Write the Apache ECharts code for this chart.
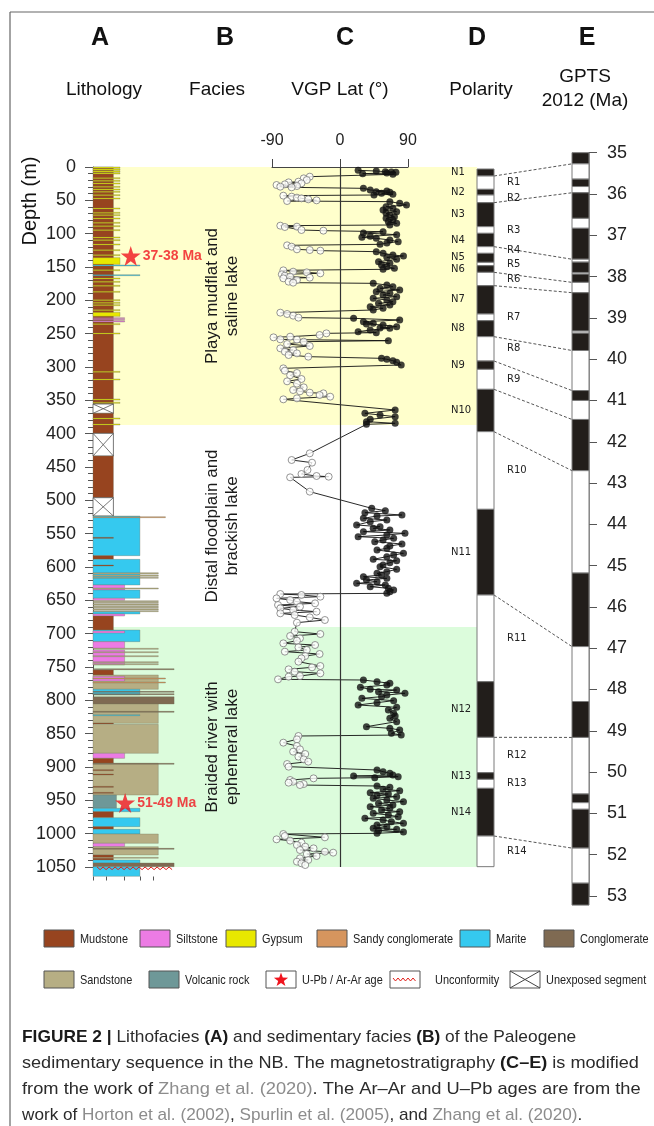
<!DOCTYPE html>
<html>
<head>
<meta charset="utf-8">
<script src="https://cdn.jsdelivr.net/npm/echarts@6/dist/echarts.min.js"></script>
<style>
html, body { margin: 0; padding: 0; background: #fff; }
#main { width: 654px; height: 1126px; }
</style>
</head>
<body>
<div id="main"></div>
<script>
const FONT = '"Liberation Sans", Arial, sans-serif';

// lithology types, legend names, grain size (x position of bed edge) and colours
const lithoTypes = ['mud', 'silt', 'gyp', 'sconG', 'marite', 'cong', 'sand', 'volc', 'unexp'];
const lithoNames = ['Mudstone', 'Siltstone', 'Gypsum', 'Sandy conglomerate', 'Marite', 'Conglomerate', 'Sandstone', 'Volcanic rock', 'Unexposed segment'];
const grainSize = [2.0, 3.1, 2.65, 7.1, 4.6, 7.95, 6.4, 2.3, 2.0];
const grainTicks = [0, 1.3, 3.1, 4.6, 5.9];
const lithoColors = ['#97441f', '#ec7be4', '#e8e800', '#d6955e', '#35c9ef', '#7f6a52', '#b6ae84', '#6e9898', '#ffffff'];

// beds: [type, top (m), base (m)]
const beds = [
  ['mud', 0, 355],
  ['gyp', 0, 2], ['gyp', 3, 5], ['gyp', 6, 8], ['gyp', 9, 10.5], ['gyp', 16, 17.5], ['gyp', 20, 21.5],
  ['gyp', 24, 25.5], ['gyp', 29, 30.5], ['gyp', 33, 34.5], ['gyp', 36.5, 38], ['gyp', 41.5, 43], ['gyp', 46.5, 48],
  ['gyp', 61.5, 63], ['gyp', 68, 69.5], ['gyp', 71.5, 73], ['gyp', 76.5, 78], ['gyp', 83, 84.5], ['gyp', 88, 89.5],
  ['gyp', 94, 95.5], ['gyp', 105, 106.5], ['gyp', 109, 110.5], ['gyp', 115.5, 117], ['gyp', 124, 125.5],
  ['gyp', 131.5, 133], ['gyp', 136, 146], ['marite', 147, 148.2], ['gyp', 154, 155.5], ['marite', 161.5, 162.7],
  ['gyp', 166.5, 168], ['gyp', 171.5, 173], ['gyp', 177.5, 179], ['gyp', 186.5, 188], ['gyp', 199, 200.5],
  ['gyp', 203, 204.5], ['gyp', 206.5, 208], ['gyp', 214, 215.5], ['gyp', 218, 224],
  ['silt', 226, 227.2], ['silt', 228.5, 229.7], ['silt', 231, 232.2],
  ['gyp', 235, 236.5], ['gyp', 249, 250.5], ['gyp', 306.5, 308], ['gyp', 318, 319.5], ['gyp', 348, 349.5], ['gyp', 353, 354.5],
  ['unexp', 355.5, 369.5],
  ['mud', 369.5, 399.5], ['gyp', 376.5, 378], ['gyp', 385.5, 387],
  ['unexp', 399.5, 433.5],
  ['mud', 433.5, 496],
  ['unexp', 496, 523.5],
  ['marite', 523.5, 583], ['sconG', 524.5, 526], ['mud', 555.5, 557],
  ['mud', 583, 588.5],
  ['marite', 588.5, 627], ['mud', 597, 598.2], ['sand', 608.5, 610.5], ['sand', 612, 614], ['sand', 615.5, 617],
  ['silt', 627, 634.5], ['sand', 631.5, 633],
  ['marite', 634.5, 647], ['silt', 647, 650],
  ['sand', 650.5, 652], ['sand', 653, 654.5], ['sand', 655.5, 657], ['sand', 658, 659.5], ['sand', 660.5, 662],
  ['sand', 663, 664.5], ['sand', 665.5, 667],
  ['marite', 667, 670.5], ['silt', 670.5, 673.5],
  ['mud', 673.5, 694.5],
  ['marite', 694.5, 712], ['silt', 696, 699],
  ['silt', 712, 722], ['sand', 722, 723.5],
  ['silt', 724.5, 747], ['sand', 727, 728.5], ['sand', 733, 734.5], ['sand', 742, 743.5], ['sand', 745, 746.5],
  ['cong', 752.5, 754],
  ['mud', 754.5, 762],
  ['sand', 762, 783.5], ['silt', 764, 771], ['sconG', 766.5, 767.8], ['sconG', 772.5, 773.8],
  ['marite', 783.5, 792], ['cong', 786.5, 787.8], ['cong', 790, 791.3],
  ['cong', 794.5, 805.5],
  ['sand', 805.5, 834.5], ['cong', 816.5, 817.8], ['marite', 821.5, 822.7], ['mud', 834, 835],
  ['sand', 836, 879.5],
  ['silt', 879.5, 887],
  ['mud', 887, 894.5],
  ['sand', 894.5, 942], ['cong', 894.5, 895.8], ['mud', 904, 905.2], ['mud', 910.5, 911.7], ['mud', 929, 930.2], ['mud', 938, 939.2],
  ['volc', 942, 962],
  ['marite', 962, 967],
  ['mud', 967, 976],
  ['marite', 976, 989.5],
  ['mud', 989.5, 993.5],
  ['marite', 993.5, 1000.5],
  ['sand', 1000.5, 1014.5],
  ['silt', 1014.5, 1019.5],
  ['sand', 1019.5, 1032], ['cong', 1022, 1023.5],
  ['mud', 1032, 1039.5], ['sand', 1035.5, 1037],
  ['marite', 1039.5, 1044],
  ['cong', 1044, 1049.5],
  ['marite', 1049.5, 1064]
];
const unconformityDepth = [1052];
// radiometric ages: [grain position, depth, label]
const ageStars = [[3.7, 133.5, '37-38 Ma'], [3.15, 954, '51-49 Ma']];

// sedimentary facies
const faciesNames = ['Playa mudflat and\nsaline lake', 'Distal floodplain and\nbrackish lake', 'Braided river with\nephemeral lake'];
const faciesTop = [0, 387, 690];
const faciesBase = [387, 690, 1050];
const faciesColors = ['#ffffcc', '#ffffff', '#dcfcdc'];

// VGP latitude: [depth (m), VGP lat (deg)]
const vgp = [
  [5,24],[6,48],[7,60],[7.5,68],[8,74],[9,62],[10,30],[11,70],
  [14.5,-40],[17,-48],[19.5,-44],[22,-55],[23,-68],[24.5,-51],[26,-73],[27,-84],[28.5,-57],[29.5,-79],[30.5,-64],
  [32,31],[34.5,40],[36,62],[37,48],[38,66],[39.5,55],[41,70],[42,45],
  [43,-75],[44.5,-64],[46,-57],[47,-51],[48.5,-42],[50,-31],[51,-70],
  [52,66],[54.5,79],[57,88],[59.5,61],[62,70],[64.5,57],[67,75],[69.5,61],[72,66],[74.5,72],[77,61],[79.5,70],[82,64],[84.5,75],[87,66],
  [88,-79],[89.5,-57],[90,-73],[94.5,-51],[95.5,-22],
  [97,57],[99,31],[101.5,75],[104,40],[105.5,29],[107,48],[109.5,66],[112,77],[114,62],[116,53],
  [117.5,-70],[119.5,-64],[123.5,-57],[124.5,-40],[125.5,-26],
  [127,48],[129.5,57],[132,70],[133.5,84],[135.5,62],[138.5,75],[142,51],[144.5,66],[147,55],[149.5,62],[152,72],[153.5,57],
  [155,-75],[157,-62],[158,-44],[159.5,-26],[161,-77],[163,-73],[164.5,-66],[166,-40],[167,-75],[169.5,-57],[172,-68],[173.5,-62],
  [174.5,44],[177,62],[179.5,70],[182,53],[184.5,79],[187,48],[189.5,66],[192,57],[194.5,75],[197,44],[199.5,62],[202,70],[204.5,51],[207,66],[209.5,40],[212,57],[214.5,44],
  [218.5,-79],[220.5,-70],[223,-62],[226,-55],
  [227,18],[229.5,79],[232,31],[234.5,44],[235.5,35],[237,57],[239.5,75],[241.5,53],[242,66],[244.5,40],[247,24],[248.5,48],
  [249.5,-18],[252,-27],[254.5,-66],[255.5,-88],[258.5,-79],[259,-57],[260.5,64],[262,-48],[265.5,-70],[268.5,-40],[272,-79],[274.5,-62],[277,-73],[279.5,-57],[282,-68],[284.5,-42],
  [287,55],[288.5,62],[290.5,70],[293,75],[297,81],
  [302,-75],[305.5,-73],[309,-57],[312.5,-66],[318,-51],[321.5,-70],[325,-57],[330.5,-48],[334.5,-62],[336.5,-53],[338.5,-40],[339.5,-22],[342,-27],[344.5,-13],[347,-57],[348.5,-75],
  [364.5,73],[369.5,33],[372,53],[374.5,73],[378.5,40],[382,35],[384.5,73],[386,35],
  [429.5,-40],[439.5,-64],[443.5,-37],[454.5,-43],[460.5,-51],[463.5,-31],[464.5,-15],[465.5,-66],[487,-40],
  [512,42],[515.5,60],[518.5,33],[522,82],[523.5,49],[527,31],[529.5,62],[532,40],[537,22],[539.5,53],[542,44],[544.5,66],[547,31],[549.5,86],[552,62],[554.5,24],[557,71],[559.5,57],[562,46],[565.5,82],[568.5,66],[572,62],[574.5,49],[579.5,84],[582,71],[584.5,62],[588.5,44],[590.5,75],[593.5,66],[597,57],[599.5,53],[603.5,75],[607,62],[609.5,49],[612,55],[614.5,31],[617,62],[619.5,35],[622,49],[624.5,22],[627,60],[629.5,40],[632,64],[634.5,71],[637,66],[639.5,62],
  [640.5,-79],[642,-51],[644.5,-26],[647,-84],[649.5,-66],[652,-57],[654.5,-33],[657,-82],[659.5,-53],[662,-79],[664.5,-62],[667,-31],[669.5,-79],[672,-60],[675.5,-40],[679.5,-20],[683.5,-57],
  [697,-60],[700.5,-26],[703.5,-66],[707,-53],[710.5,-57],[714.5,-75],[717,-33],[720.5,-55],[724.5,-44],[727,-73],[730.5,-27],[733.5,-46],[737,-51],[742,-55],[748.5,-26],[750.5,-37],[753.5,-68],[757,-60],[759.5,-26],[763.5,-53],[764.5,-68],[768.5,-82],
  [769.5,31],[772,49],[774.5,66],[777,62],[780.5,27],[783.5,40],[784.5,75],[787,51],[789.5,86],[792,62],[794.5,55],[797,29],[800.5,71],[803.5,49],[807,24],[810.5,75],[814.5,64],[819.5,71],[823.5,73],[827,66],[832,75],[839.5,35],[842,66],[844.5,79],[849.5,68],[852,81],
  [853.5,-55],[858.5,-57],[863.5,-75],[868.5,-57],[873.5,-53],[877,-62],[880.5,-46],[884.5,-55],[888.5,-48],[892,-42],[895.5,-70],[899.5,-68],
  [904.5,49],[907,57],[909.5,66],[912,70],[913.5,18],[914.5,77],[916,46],
  [917,-35],[919.5,-66],[922,-62],[923.5,-68],[925.5,-48],[927,-53],
  [928.5,49],[930.5,66],[933.5,57],[935.5,79],[938.5,40],[940.5,64],[942.5,49],[944.5,75],[947,44],[949.5,62],[952,84],[954.5,51],[957,70],[959.5,40],[962,66],[964.5,55],[967,79],[969.5,44],[972,64],[974.5,77],[977,33],[979.5,57],[982,68],[984.5,84],[987,49],[989.5,62],[992,44],[993.5,75],[995.5,51],[997.5,84],[999.5,49],
  [1000.5,-75],[1003.5,-73],[1005.5,-20],[1008.5,-84],[1010.5,-66],[1013.5,-51],[1017,-57],[1019.5,-46],[1022,-35],[1024.5,-53],[1027,-20],[1028.5,-9],[1030.5,-44],[1033.5,-31],[1037,-53],[1039.5,-42],[1042,-57],[1044.5,-51],[1047,-46]
];

// magnetozones: [top (m), base (m), name]
const polarityZones = [
  [3, 13.5, 'N1'], [13.5, 33.5, 'R1'], [33.5, 42, 'N2'], [42, 53.5, 'R2'], [53.5, 89.5, 'N3'], [89.5, 99.5, 'R3'],
  [99.5, 119.5, 'N4'], [119.5, 129.5, 'R4'], [129.5, 143, 'N5'], [143, 148, 'R5'], [148, 158, 'N6'], [158, 178, 'R6'],
  [178, 220.5, 'N7'], [220.5, 230.5, 'R7'], [230.5, 254.5, 'N8'], [254.5, 291, 'R8'], [291, 303.5, 'N9'], [303.5, 333.5, 'R9'],
  [333.5, 397, 'N10'], [397, 513.5, 'R10'], [513.5, 642, 'N11'], [642, 772, 'R11'], [772, 855.5, 'N12'], [855.5, 908.5, 'R12'],
  [908.5, 918.5, 'N13'], [918.5, 932, 'R13'], [932, 1003.5, 'N14'], [1003.5, 1049.5, 'R14']
];

// GPTS 2012 chrons: [young (Ma), old (Ma), normal 1 / reversed 0]
const gptsZones = [
  [35.0, 35.27, 1], [35.27, 35.64, 0], [35.64, 35.82, 1], [35.82, 35.97, 0], [35.97, 36.59, 1], [36.59, 36.83, 0],
  [36.83, 37.58, 1], [37.58, 37.65, 0], [37.65, 37.9, 1], [37.9, 37.94, 0], [37.94, 38.14, 1], [38.14, 38.39, 0],
  [38.39, 39.32, 1], [39.32, 39.37, 0], [39.37, 39.79, 1], [39.79, 40.76, 0], [40.76, 41.0, 1], [41.0, 41.46, 0],
  [41.46, 42.70, 1], [42.70, 45.18, 0], [45.18, 46.96, 1], [46.96, 48.29, 0], [48.29, 49.16, 1], [49.16, 50.53, 0],
  [50.53, 50.74, 1], [50.74, 50.90, 0], [50.90, 51.84, 1], [51.84, 52.69, 0], [52.69, 53.22, 1]
];

// correlation tie lines: [depth (m), age (Ma)]
const ties = [[13.5, 35.27], [53.5, 35.97], [119.5, 37.58], [158, 38.14], [178, 38.39], [254.5, 39.79],
  [291, 40.76], [333.5, 41.46], [397, 42.70], [642, 46.96], [855.5, 49.16], [1003.5, 51.84]];

const headers = [['A', 'Lithology'], ['B', 'Facies'], ['C', 'VGP Lat (°)'], ['D', 'Polarity'], ['E', 'GPTS\n2012 (Ma)']];

const STAR = 'path://M12,0 L14.9,8.6 L24,8.6 L16.6,13.9 L19.4,22.6 L12,17.2 L4.6,22.6 L7.4,13.9 L0,8.6 L9.1,8.6 Z';

function starPoints(cx, cy, R, r) {
  const pts = [];
  for (let i = 0; i < 10; i++) {
    const a = -Math.PI / 2 + i * Math.PI / 5;
    const rad = i % 2 === 0 ? R : r;
    pts.push([cx + rad * Math.cos(a), cy + rad * Math.sin(a)]);
  }
  return pts;
}

function wave(x0, x1, y, amp, step) {
  const pts = [];
  for (let x = x0, i = 0; x <= x1; x += step / 2, i++) {
    pts.push([x, y + (i % 2 === 0 ? -amp : amp)]);
  }
  return pts;
}

const chart = echarts.init(document.getElementById('main'));

const hiddenAxis = (gi, min, max, inverse) => ({
  gridIndex: gi, type: 'value', min, max, inverse: !!inverse, show: false
});

const depthHidden = gi => hiddenAxis(gi, 0, 1050, true);

// legend drawn as graphic elements
function legendGraphics() {
  const g = [];
  const row1 = [[0, 44], [1, 140], [2, 226], [3, 317], [4, 460], [5, 544]];
  const row2 = [[6, 44], [7, 149]];
  const box = (x, y, fill) => ({
    type: 'rect', shape: { x, y, width: 30, height: 17 },
    style: { fill, stroke: '#555', lineWidth: 1 }
  });
  const label = (x, y, text) => ({
    type: 'text', x, y, scaleX: 0.84,
    style: { text, fill: '#222', font: '13px ' + FONT, align: 'left', verticalAlign: 'middle', textAlign: 'left', textVerticalAlign: 'middle' }
  });
  row1.forEach(([k, x]) => { g.push(box(x, 930, lithoColors[k])); g.push(label(x + 36, 939, lithoNames[k])); });
  row2.forEach(([k, x]) => { g.push(box(x, 971, lithoColors[k])); g.push(label(x + 36, 980, lithoNames[k])); });
  // star
  g.push(box(266, 971, '#fff'));
  g.push({ type: 'polygon', shape: { points: starPoints(281, 980, 7.5, 3) }, style: { fill: '#f0141e' } });
  g.push(label(302, 980, 'U-Pb / Ar-Ar age'));
  // unconformity
  g.push(box(390, 971, '#fff'));
  g.push({ type: 'polyline', shape: { points: wave(393, 417, 979.5, 1.5, 5) }, style: { stroke: '#e0201b', lineWidth: 1, fill: null } });
  g.push(label(435, 980, 'Unconformity'));
  // unexposed
  g.push(box(510, 971, '#fff'));
  g.push({ type: 'line', shape: { x1: 510, y1: 971, x2: 540, y2: 988 }, style: { stroke: '#444', lineWidth: 1 } });
  g.push({ type: 'line', shape: { x1: 510, y1: 988, x2: 540, y2: 971 }, style: { stroke: '#444', lineWidth: 1 } });
  g.push(label(546, 980, 'Unexposed segment'));
  return g;
}

function headerGraphics() {
  const g = [];
  const xs = [100, 225, 345, 477, 587];
  headers.forEach(([letter, title], i) => {
    g.push({
      type: 'text', x: xs[i], y: 38,
      style: { text: letter, fill: '#111', font: 'bold 25px ' + FONT, align: 'center', verticalAlign: 'middle', textAlign: 'center', textVerticalAlign: 'middle' }
    });
  });
  const tx = [104, 217, 340, 481];
  headers.slice(0, 4).forEach(([l, title], i) => {
    g.push({
      type: 'text', x: tx[i], y: 90,
      style: { text: title, fill: '#111', font: '19px ' + FONT, align: 'center', verticalAlign: 'middle', textAlign: 'center', textVerticalAlign: 'middle' }
    });
  });
  g.push({
    type: 'text', x: 585, y: 89,
    style: { text: headers[4][1], fill: '#111', font: '19px ' + FONT, align: 'center', verticalAlign: 'middle', textAlign: 'center', textVerticalAlign: 'middle', lineHeight: 24 }
  });
  g.push({
    type: 'text', x: 30, y: 201, rotation: Math.PI / 2,
    style: { text: 'Depth (m)', fill: '#111', font: '20px ' + FONT, align: 'center', verticalAlign: 'middle', textAlign: 'center', textVerticalAlign: 'middle' }
  });
  return g;
}

function captionGraphics() {
  const lines = [
    '{b|FIGURE 2 |} Lithofacies {b|(A)} and sedimentary facies {b|(B)} of the Paleogene',
    'sedimentary sequence in the NB. The magnetostratigraphy {b|(C–E)} is modified',
    'from the work of {g|Zhang et al. (2020)}. The Ar–Ar and U–Pb ages are from the',
    'work of {g|Horton et al. (2002)}, {g|Spurlin et al. (2005)}, and {g|Zhang et al. (2020)}.'
  ];
  const ys = [1037, 1063, 1089, 1115];
  const sx = [1.02, 1.065, 1.075, 1.01];
  return lines.map((t, i) => ({
    type: 'text', x: 22, y: ys[i], scaleX: sx[i],
    style: {
      text: t, fill: '#2b2b2b', font: '17px ' + FONT, align: 'left', verticalAlign: 'middle',
      textAlign: 'left', textVerticalAlign: 'middle',
      rich: {
        b: { fontWeight: 'bold', fontSize: 17, fontFamily: FONT, fill: '#1a1a1a' },
        g: { fontSize: 17, fontFamily: FONT, fill: '#8c8c8c' }
      }
    }
  }));
}

const frame = [
  { type: 'line', shape: { x1: 10, y1: 12, x2: 654, y2: 12 }, style: { stroke: '#666', lineWidth: 1.2 } },
  { type: 'line', shape: { x1: 10, y1: 12, x2: 10, y2: 1126 }, style: { stroke: '#666', lineWidth: 1.2 } }
];

const option = {
  animation: false,
  backgroundColor: '#fff',
  textStyle: { fontFamily: FONT },
  grid: [
    { left: 93, top: 167, width: 102, height: 700, outerBoundsMode: 'none' },   // lithology
    { left: 93, top: 167, width: 384, height: 700, outerBoundsMode: 'none' },   // facies bands
    { left: 272, top: 167, width: 136, height: 700, outerBoundsMode: 'none' },  // VGP
    { left: 477, top: 167, width: 17, height: 700, outerBoundsMode: 'none' },   // polarity
    { left: 572, top: 152.7, width: 17, height: 743.3, outerBoundsMode: 'none' } // GPTS
  ],
  xAxis: [
    {
      gridIndex: 0, type: 'value', min: 0, max: 10, position: 'bottom', offset: 9.5,
      axisLine: { show: false, onZero: false },
      axisTick: { show: true, length: 4, customValues: grainTicks, lineStyle: { color: '#555' } },
      axisLabel: { show: false },
      splitLine: { show: false }
    },
    hiddenAxis(1, 0, 1),
    {
      gridIndex: 2, type: 'value', min: -90, max: 90, interval: 90, position: 'top',
      axisLine: { show: true, onZero: false, lineStyle: { color: '#444', width: 1 } },
      axisTick: { show: true, length: 8, lineStyle: { color: '#444' } },
      axisLabel: { fontSize: 16, color: '#222', margin: 18 },
      splitLine: { show: false }
    },
    hiddenAxis(3, 0, 1),
    hiddenAxis(4, 0, 1)
  ],
  yAxis: [
    {
      gridIndex: 0, type: 'value', inverse: true, min: 0, max: 1050, interval: 50, position: 'left',
      axisLine: { show: true, onZero: false, lineStyle: { color: '#555', width: 1 } },
      axisTick: { show: true, length: 8, lineStyle: { color: '#555' } },
      minorTick: { show: true, splitNumber: 5, length: 5, lineStyle: { color: '#555' } },
      axisLabel: { fontSize: 18, color: '#222', margin: 17, formatter: v => String(v) },
      splitLine: { show: false }
    },
    depthHidden(1),
    depthHidden(2),
    depthHidden(3),
    {
      gridIndex: 4, type: 'value', inverse: true, min: 35, max: 53, interval: 1, position: 'right',
      axisLine: { show: true, onZero: false, lineStyle: { color: '#777', width: 1.5 } },
      axisTick: { show: true, length: 8, lineStyle: { color: '#555' } },
      axisLabel: { fontSize: 18, color: '#222', margin: 18 },
      splitLine: { show: false }
    }
  ],
  graphic: { elements: [].concat(frame, headerGraphics(), legendGraphics(), captionGraphics()) },
  series: [
    {
      id: 'facies', type: 'custom', xAxisIndex: 1, yAxisIndex: 1, z: 0, silent: true,
      data: faciesTop.map((t, i) => [0, t, 1, faciesBase[i]]),
      renderItem: (params, api) => {
        const i = params.dataIndex;
        const p0 = api.coord([0, faciesTop[i]]);
        const p1 = api.coord([1, faciesBase[i]]);
        return {
          type: 'group', children: [
            { type: 'rect', shape: { x: p0[0], y: p0[1], width: p1[0] - p0[0], height: p1[1] - p0[1] }, style: { fill: faciesColors[i] } },
            {
              type: 'text', x: p0[0] + 129, y: (p0[1] + p1[1]) / 2, rotation: Math.PI / 2,
              style: { text: faciesNames[i], fill: '#1a1a1a', font: '17px ' + FONT, align: 'center', verticalAlign: 'middle', textAlign: 'center', textVerticalAlign: 'middle', lineHeight: 20 }
            }
          ]
        };
      }
    },
    {
      id: 'litho', type: 'custom', xAxisIndex: 0, yAxisIndex: 0, z: 2, clip: false, silent: true,
      data: beds.map(b => [grainSize[lithoTypes.indexOf(b[0])], b[1], b[2]]),
      renderItem: (params, api) => {
        const b = beds[params.dataIndex];
        const k = lithoTypes.indexOf(b[0]);
        const p0 = api.coord([0, b[1]]);
        const p1 = api.coord([grainSize[k], b[2]]);
        const shape = { x: p0[0], y: p0[1], width: p1[0] - p0[0], height: Math.max(p1[1] - p0[1], 1) };
        if (b[0] === 'unexp') {
          return {
            type: 'group', children: [
              { type: 'rect', shape, style: { fill: '#fff', stroke: '#555', lineWidth: 0.8 } },
              { type: 'line', shape: { x1: shape.x, y1: shape.y, x2: shape.x + shape.width, y2: shape.y + shape.height }, style: { stroke: '#555', lineWidth: 0.8 } },
              { type: 'line', shape: { x1: shape.x, y1: shape.y + shape.height, x2: shape.x + shape.width, y2: shape.y }, style: { stroke: '#555', lineWidth: 0.8 } }
            ]
          };
        }
        return { type: 'rect', shape, style: { fill: lithoColors[k], stroke: 'rgba(110,110,90,0.55)', lineWidth: 0.6 } };
      }
    },
    {
      id: 'unconformity', type: 'custom', xAxisIndex: 0, yAxisIndex: 0, z: 4, clip: false, silent: true,
      data: unconformityDepth.map(d => [0, d]),
      renderItem: (params, api) => {
        const d = unconformityDepth[params.dataIndex];
        const a = api.coord([0.4, d]);
        const b = api.coord([grainSize[5], d]);
        return { type: 'polyline', shape: { points: wave(a[0], b[0], a[1], 1.3, 6) }, style: { stroke: '#e0201b', lineWidth: 1, fill: null } };
      }
    },
    {
      id: 'stars', type: 'scatter', xAxisIndex: 0, yAxisIndex: 0, z: 6, silent: true,
      symbol: STAR, symbolSize: 20,
      itemStyle: { color: '#f0141e' },
      data: ageStars.map(s => [s[0], s[1]]),
      label: {
        show: true, position: 'right', distance: 2,
        formatter: p => ageStars[p.dataIndex][2],
        color: '#f0141e', fontWeight: 'bold', fontSize: 14, fontFamily: FONT
      }
    },
    {
      id: 'vgpLine', type: 'line', xAxisIndex: 2, yAxisIndex: 2, z: 3, silent: true,
      showSymbol: false, symbol: 'none',
      data: vgp.map(p => [p[1], p[0]]),
      lineStyle: { color: '#111', width: 0.9 },
      markLine: {
        silent: true, symbol: 'none', label: { show: false },
        lineStyle: { color: '#333', width: 1.2, type: 'solid' },
        data: [{ xAxis: 0 }]
      }
    },
    {
      id: 'vgpReversed', type: 'scatter', xAxisIndex: 2, yAxisIndex: 2, z: 4, silent: true,
      symbol: 'circle', symbolSize: 7,
      itemStyle: { color: '#fff', borderColor: '#7a7a7a', borderWidth: 1 },
      data: vgp.filter(p => p[1] < 0).map(p => [p[1], p[0]])
    },
    {
      id: 'vgpNormal', type: 'scatter', xAxisIndex: 2, yAxisIndex: 2, z: 5, silent: true,
      symbol: 'circle', symbolSize: 7,
      itemStyle: { color: '#111' },
      data: vgp.filter(p => p[1] >= 0).map(p => [p[1], p[0]])
    },
    {
      id: 'polarity', type: 'custom', xAxisIndex: 3, yAxisIndex: 3, z: 3, clip: false, silent: true,
      data: polarityZones.map(z => [0, z[0], 1, z[1]]),
      renderItem: (params, api) => {
        const z = polarityZones[params.dataIndex];
        const normal = z[2][0] === 'N';
        const p0 = api.coord([0, z[0]]);
        const p1 = api.coord([1, z[1]]);
        const mid = (p0[1] + p1[1]) / 2;
        return {
          type: 'group', children: [
            { type: 'rect', shape: { x: p0[0], y: p0[1], width: p1[0] - p0[0], height: p1[1] - p0[1] }, style: { fill: normal ? '#221e1b' : '#fff', stroke: '#7a7a7a', lineWidth: 1 } },
            {
              type: 'text', x: normal ? p0[0] - 26 : p1[0] + 13, y: mid,
              style: { text: z[2], fill: '#222', font: '10px "DejaVu Sans", sans-serif', align: 'left', verticalAlign: 'middle', textAlign: 'left', textVerticalAlign: 'middle' }
            }
          ]
        };
      }
    },
    {
      id: 'gpts', type: 'custom', xAxisIndex: 4, yAxisIndex: 4, z: 3, clip: false, silent: true,
      data: gptsZones.map(z => [0, z[0], 1, z[1]]),
      renderItem: (params, api) => {
        const z = gptsZones[params.dataIndex];
        const p0 = api.coord([0, z[0]]);
        const p1 = api.coord([1, z[1]]);
        return { type: 'rect', shape: { x: p0[0], y: p0[1], width: p1[0] - p0[0], height: p1[1] - p0[1] }, style: { fill: z[2] ? '#221e1b' : '#fff', stroke: '#7a7a7a', lineWidth: 1 } };
      }
    }
  ]
};

chart.setOption(option);

// tie lines between the polarity column and the GPTS column, placed through both axes
const tiePixels = ties.map(([d, a]) => {
  const p = chart.convertToPixel({ gridIndex: 3 }, [1, d]);
  const q = chart.convertToPixel({ gridIndex: 4 }, [0, a]);
  return [p[0], p[1], q[0], q[1]];
});
option.series.push({
  id: 'ties', type: 'custom', coordinateSystem: 'none', z: 2, silent: true,
  data: tiePixels,
  renderItem: (params, api) => {
    const t = tiePixels[params.dataIndex];
    return { type: 'line', shape: { x1: t[0], y1: t[1], x2: t[2], y2: t[3] }, style: { stroke: '#555', lineWidth: 1, lineDash: [3, 2] } };
  }
});
chart.setOption(option, true);
</script>
</body>
</html>
